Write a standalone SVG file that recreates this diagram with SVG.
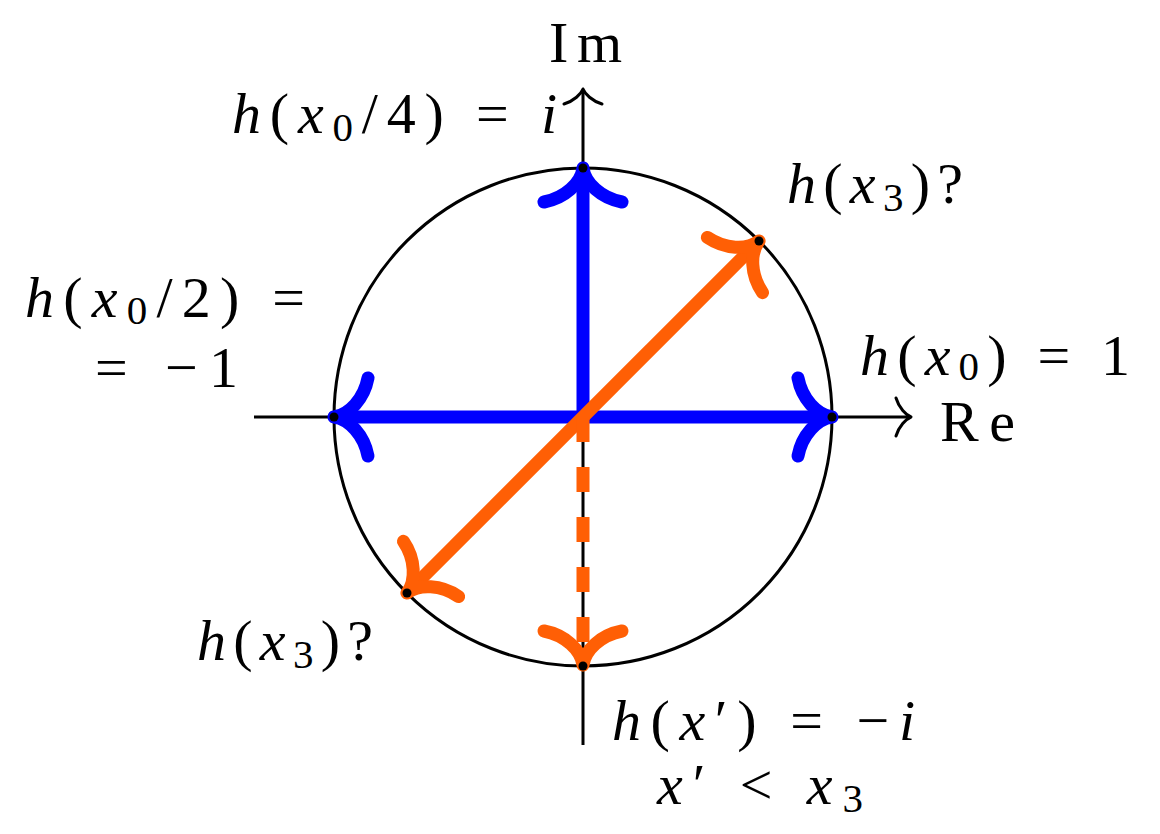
<svg xmlns="http://www.w3.org/2000/svg" width="1160" height="834" viewBox="0 0 1160 834">
<style>
.ax{stroke:#000;stroke-width:3;fill:none}
.ah{stroke:#000;stroke-width:3;fill:none;stroke-linecap:round;stroke-linejoin:round}
.bl{stroke:#0000ff;stroke-width:13;fill:none}
.or{stroke:#ff5f05;stroke-width:13;fill:none}
.cap{stroke-linecap:round;stroke-linejoin:round}
text{font-family:'Liberation Serif',serif;font-size:58px;fill:#000}
.it{font-style:italic}
.sub{font-size:41px}
</style>
<defs>
<path id="thin" d="M -15,-19 C -12,-9 -5,-2 0,0 C -5,2 -12,9 -15,19"/>
<path id="thick" d="M -34,-39 C -30,-18 -15,-2 0,0 C -15,2 -30,18 -34,39"/>
</defs>
<rect width="1160" height="834" fill="#fff"/>
<g id="axes">
<line class="ax" x1="254" y1="417" x2="910" y2="417"/>
<line class="ax" x1="583" y1="745" x2="583" y2="90"/>
<use href="#thin" class="ah" transform="translate(911,417)"/>
<use href="#thin" class="ah" transform="translate(583,89) rotate(-90)"/>
</g>
<g id="unit-circle">
<circle cx="583" cy="417" r="249" fill="none" stroke="#000" stroke-width="3"/>
</g>
<g id="connectors">
<line class="bl" x1="583" y1="417" x2="583" y2="170"/>
<line class="bl" x1="583" y1="417" x2="336" y2="417"/>
<line class="bl" x1="583" y1="417" x2="830" y2="417"/>
<use href="#thick" class="bl cap" transform="translate(583,168) rotate(-90)"/>
<use href="#thick" class="bl cap" transform="translate(334,417) rotate(180)"/>
<use href="#thick" class="bl cap" transform="translate(832,417)"/>
<line class="or" x1="408" y1="592" x2="758" y2="242"/>
<use href="#thick" class="or cap" transform="translate(759,241) rotate(-45)"/>
<use href="#thick" class="or cap" transform="translate(407,593) rotate(135)"/>
<line class="or" x1="583" y1="417" x2="583" y2="662" stroke-dasharray="25 25"/>
<use href="#thick" class="or cap" transform="translate(583,665) rotate(90)"/>
</g>
<g id="points" fill="#000">
<circle cx="583" cy="168" r="4.5"/>
<circle cx="583" cy="666" r="4.5"/>
<circle cx="334" cy="417" r="4.5"/>
<circle cx="832" cy="417" r="4.5"/>
<circle cx="759" cy="241" r="4.5"/>
<circle cx="407" cy="593" r="4.5"/>
</g>
<g id="label-im"><text x="549" y="62" textLength="73" lengthAdjust="spacing">Im</text></g>
<g id="label-re"><text x="940" y="441" textLength="75" lengthAdjust="spacing">Re</text></g>
<g id="label-i"><text x="232" y="133" textLength="325" lengthAdjust="spacing"><tspan class="it">h</tspan>(<tspan class="it">x</tspan><tspan class="sub" dy="8">0</tspan><tspan dy="-8">/4) = </tspan><tspan class="it">i</tspan></text></g>
<g id="label-x3-upper"><text x="787" y="203" textLength="176" lengthAdjust="spacing"><tspan class="it">h</tspan>(<tspan class="it">x</tspan><tspan class="sub" dy="8">3</tspan><tspan dy="-8">)?</tspan></text></g>
<g id="label-minus1">
<text x="25" y="317" textLength="280" lengthAdjust="spacing"><tspan class="it">h</tspan>(<tspan class="it">x</tspan><tspan class="sub" dy="7">0</tspan><tspan dy="-7">/2) =</tspan></text>
<text x="95" y="387" textLength="143" lengthAdjust="spacing">= −1</text>
</g>
<g id="label-1"><text x="860" y="375" textLength="270" lengthAdjust="spacing"><tspan class="it">h</tspan>(<tspan class="it">x</tspan><tspan class="sub" dy="5">0</tspan><tspan dy="-5">) = 1</tspan></text></g>
<g id="label-x3-lower"><text x="197" y="660" textLength="176" lengthAdjust="spacing"><tspan class="it">h</tspan>(<tspan class="it">x</tspan><tspan class="sub" dy="8">3</tspan><tspan dy="-8">)?</tspan></text></g>
<g id="label-minus-i">
<text x="612" y="740" textLength="303" lengthAdjust="spacing"><tspan class="it">h</tspan>(<tspan class="it">x</tspan>′) = −<tspan class="it">i</tspan></text>
<text x="657" y="804" textLength="206" lengthAdjust="spacing"><tspan class="it">x</tspan>′ &lt; <tspan class="it">x</tspan><tspan class="sub" dy="8">3</tspan></text>
</g>
</svg>
